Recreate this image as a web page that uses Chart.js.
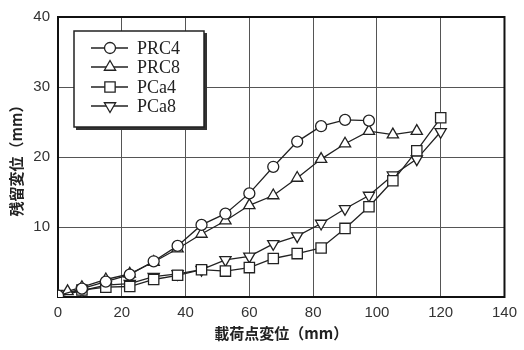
<!DOCTYPE html>
<html>
<head>
<meta charset="utf-8">
<script src="https://cdn.jsdelivr.net/npm/chart.js@4/dist/chart.umd.min.js"></script>
<style>
  html, body { margin: 0; padding: 0; background: #fff; }
  #wrap { width: 524px; height: 350px; position: relative; }
</style>
</head>
<body>
<div id="wrap"><canvas id="c" width="524" height="350"></canvas></div>
<script>
// 載荷点変位 (mm) と 残留変位 (mm)
const xPRC4 = [0, 7.5, 15, 22.5, 30, 37.5, 45, 52.5, 60, 67.5, 75, 82.5, 90, 97.5];
const yPRC4 = [0.2, 1.2, 2.2, 3.2, 5.1, 7.3, 10.3, 11.9, 14.8, 18.6, 22.2, 24.4, 25.3, 25.2];

const xPRC8 = [0, 3, 7.5, 15, 22.5, 30, 37.5, 45, 52.5, 60, 67.5, 75, 82.5, 90, 97.5, 105, 112.5];
const yPRC8 = [0.2, 0.8, 1.4, 2.5, 3.3, 5.0, 6.9, 9.0, 10.9, 13.1, 14.5, 17.0, 19.7, 21.9, 23.7, 23.2, 23.7];

const xPCa4 = [0, 7.5, 15, 22.5, 30, 37.5, 45, 52.5, 60, 67.5, 75, 82.5, 90, 97.5, 105, 112.5, 120];
const yPCa4 = [0.2, 1.0, 1.4, 1.5, 2.5, 3.1, 3.9, 3.7, 4.2, 5.5, 6.2, 7.0, 9.8, 12.9, 16.6, 20.9, 25.6];

const xPCa8 = [0, 7.5, 15, 22.5, 30, 37.5, 45, 52.5, 60, 67.5, 75, 82.5, 90, 97.5, 105, 112.5, 120];
const yPCa8 = [0.1, 0.9, 1.7, 1.9, 2.9, 3.3, 3.9, 5.3, 5.8, 7.6, 8.7, 10.5, 12.6, 14.5, 17.4, 19.7, 23.6];

const seriesNames = ['PRC4', 'PRC8', 'PCa4', 'PCa8'];
const xTicks = [0, 20, 40, 60, 80, 100, 120, 140];
const yTicks = [0, 10, 20, 30, 40];
const xTitle = '載荷点変位（mm）';
const yTitle = '残留変位（mm）';

const INK = '#222';
const markers = [
  { style: 'circle',   radius: 5.5, rotation: 0 },
  { style: 'triangle', radius: 6.5, rotation: 0 },
  { style: 'rect',     radius: 7.3, rotation: 0 },
  { style: 'triangle', radius: 6.5, rotation: 180 }
];

function pts(xs, ys) { return xs.map((x, i) => ({ x: x, y: ys[i] })); }
const seriesData = [pts(xPRC4, yPRC4), pts(xPRC8, yPRC8), pts(xPCa4, yPCa4), pts(xPCa8, yPCa8)];

const datasets = seriesNames.map((name, i) => ({
  label: name,
  data: seriesData[i],
  showLine: true,
  borderColor: INK,
  borderWidth: 1.3,
  backgroundColor: '#fff',
  pointStyle: markers[i].style,
  pointRadius: markers[i].radius,
  pointRotation: markers[i].rotation,
  pointBorderColor: INK,
  pointBorderWidth: 1.3,
  pointBackgroundColor: '#fff',
  tension: 0
}));

// plot frame drawn beneath the series
const framePlugin = {
  id: 'frame',
  beforeDatasetsDraw(chart) {
    const a = chart.chartArea, ctx = chart.ctx;
    ctx.save();
    ctx.strokeStyle = '#111';
    ctx.lineWidth = 2;
    ctx.strokeRect(a.left, a.top, a.right - a.left, a.bottom - a.top);
    ctx.restore();
  }
};

// boxed legend with line + marker samples
const boxLegend = {
  id: 'boxLegend',
  afterDraw(chart) {
    const ctx = chart.ctx;
    const bx = 74, by = 31, bw = 130, bh = 96;
    ctx.save();
    ctx.fillStyle = '#333';
    ctx.fillRect(bx + 2, by + 2, bw + 1, bh + 1);
    ctx.fillStyle = '#fff';
    ctx.fillRect(bx, by, bw, bh);
    ctx.strokeStyle = '#222';
    ctx.lineWidth = 1.5;
    ctx.strokeRect(bx, by, bw, bh);
    const rows = [48, 67, 87, 106];
    ctx.font = '18px "Liberation Serif", "DejaVu Serif", serif';
    ctx.textBaseline = 'middle';
    ctx.textAlign = 'left';
    seriesNames.forEach((name, i) => {
      const y = rows[i];
      ctx.strokeStyle = INK;
      ctx.lineWidth = 1.3;
      ctx.beginPath();
      ctx.moveTo(91, y);
      ctx.lineTo(128, y);
      ctx.stroke();
      ctx.fillStyle = '#fff';
      Chart.helpers.drawPoint(ctx, {
        pointStyle: markers[i].style,
        radius: markers[i].radius,
        rotation: markers[i].rotation,
        borderWidth: 1.3
      }, 110, y);
      ctx.fillStyle = INK;
      ctx.fillText(name, 137, y + 1);
    });
    ctx.restore();
  }
};

new Chart(document.getElementById('c'), {
  type: 'scatter',
  data: { datasets },
  plugins: [framePlugin, boxLegend],
  options: {
    responsive: false,
    animation: false,
    devicePixelRatio: 1,
    layout: { padding: { left: 0, right: 15, top: 13, bottom: 0 } },
    plugins: { legend: { display: false }, tooltip: { enabled: false } },
    scales: {
      x: {
        type: 'linear',
        min: 0, max: 140,
        afterBuildTicks: s => { s.ticks = xTicks.map(v => ({ value: v })); },
        afterFit: s => { s.height = 53; },
        grid: { color: '#555', lineWidth: 1, drawTicks: false },
        border: { display: false },
        ticks: {
          color: '#333', padding: 7,
          font: { family: 'Arial, "Liberation Sans", sans-serif', size: 15 }
        },
        title: {
          display: true, text: xTitle, color: INK,
          padding: { top: 0, bottom: 8 },
          font: { family: '"Noto Sans CJK JP", sans-serif', size: 15, weight: 'bold' }
        }
      },
      y: {
        type: 'linear',
        min: 0, max: 40,
        afterBuildTicks: s => { s.ticks = yTicks.map(v => ({ value: v })); },
        afterFit: s => { s.width = 58; },
        grid: { color: '#555', lineWidth: 1, drawTicks: false },
        border: { display: false },
        ticks: {
          color: '#333', padding: 8,
          font: { family: 'Arial, "Liberation Sans", sans-serif', size: 15 },
          callback: v => (v === 0 ? '' : String(v))
        },
        title: {
          display: true, text: yTitle, color: INK,
          padding: { top: 7, bottom: 0 },
          font: { family: '"Noto Sans CJK JP", sans-serif', size: 15, weight: 'bold' }
        }
      }
    }
  }
});
</script>
</body>
</html>
